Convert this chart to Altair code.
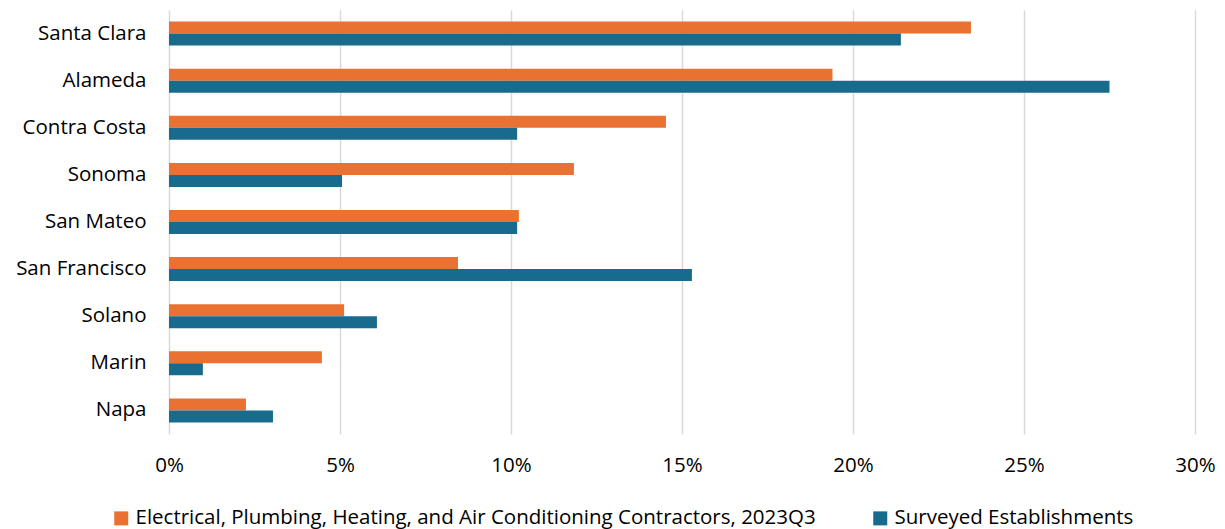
import altair as alt
import pandas as pd

counties = ["Santa Clara", "Alameda", "Contra Costa", "Sonoma", "San Mateo",
            "San Francisco", "Solano", "Marin", "Napa"]
contractors = [23.45, 19.4, 14.53, 11.84, 10.23, 8.45, 5.12, 4.47, 2.25]
surveyed = [21.4, 27.5, 10.18, 5.06, 10.18, 15.29, 6.08, 0.99, 3.04]
series = ["Electrical, Plumbing, Heating, and Air Conditioning Contractors, 2023Q3",
          "Surveyed Establishments"]
colors = ["#E97132", "#196B8E"]
x_ticks = [0, 0.05, 0.10, 0.15, 0.20, 0.25, 0.30]

rows = []
for c, a, b in zip(counties, contractors, surveyed):
    rows.append({"county": c, "series": series[0], "value": a / 100})
    rows.append({"county": c, "series": series[1], "value": b / 100})
df = pd.DataFrame(rows)

FONT = "Open Sans"
FS = 20.5

chart = alt.Chart(df).mark_bar().encode(
    y=alt.Y("county:N", sort=counties, title=None,
            scale=alt.Scale(paddingInner=0.49, paddingOuter=0.245),
            axis=alt.Axis(labelFontSize=FS, labelPadding=23, ticks=False,
                          domain=False, labelColor="#000000", labelFont=FONT)),
    x=alt.X("value:Q", title=None,
            scale=alt.Scale(domain=[0, 0.3], nice=False),
            axis=alt.Axis(values=x_ticks, format=".0%", labelFontSize=FS,
                          labelPadding=21, ticks=False, domain=False,
                          labelFlush=False,
                          gridColor="#D9D9D9", gridWidth=1.5,
                          labelColor="#000000", labelFont=FONT)),
    yOffset=alt.YOffset("series:N", sort=series),
    color=alt.Color("series:N", sort=series,
                    scale=alt.Scale(domain=series, range=colors),
                    legend=alt.Legend(orient="none", direction="horizontal",
                                      legendX=-58, legendY=498, title=None,
                                      symbolType="square", symbolSize=196,
                                      symbolStrokeWidth=0,
                                      labelFontSize=FS, labelFont=FONT,
                                      labelColor="#000000", labelLimit=2000,
                                      columnPadding=54, labelOffset=4)),
).properties(
    width=1026, height=424,
    autosize=alt.AutoSizeParams(type="none"),
    padding={"left": 161, "top": 2, "right": 22, "bottom": 98},
).configure_view(stroke=None)

chart.save("out.html", embed_options={"renderer": "svg", "actions": False})
